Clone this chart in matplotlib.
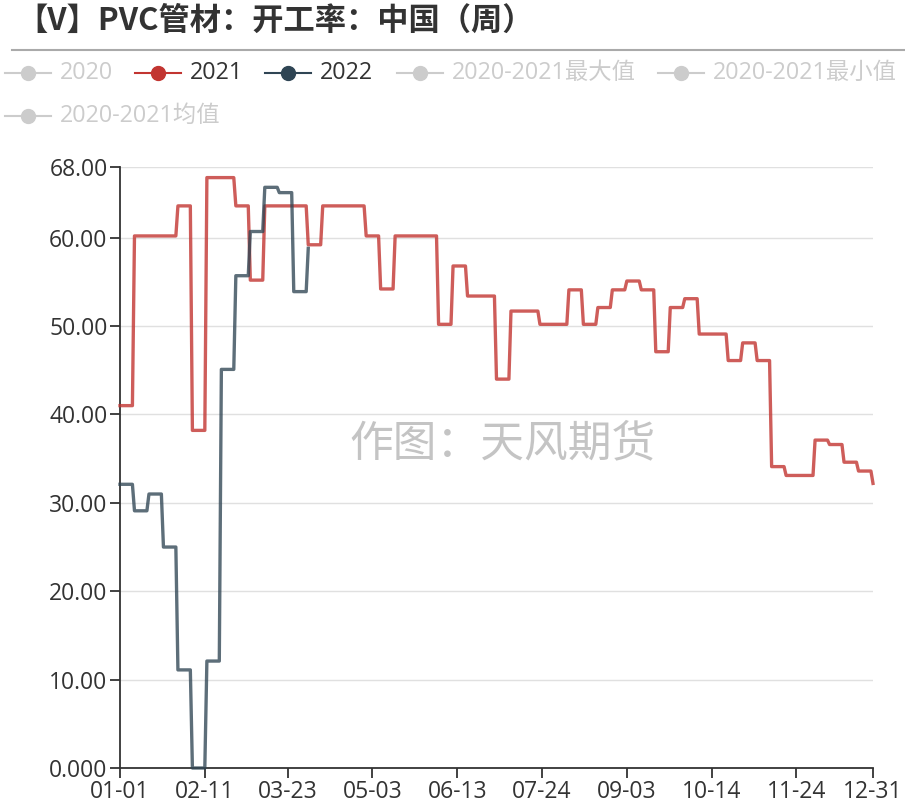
import matplotlib.pyplot as plt
from matplotlib.lines import Line2D
from datetime import datetime
import numpy as np

plt.rcParams['font.family'] = ['Open Sans', 'Noto Sans CJK SC', 'DejaVu Sans']

# 周度开工率（%），每周一个点
v2021 = [41.0, 60.2, 60.2, 60.2, 63.6, 38.2, 66.8, 66.8, 63.6, 55.2,
         63.6, 63.6, 63.6, 59.2, 63.6, 63.6, 63.6, 60.2, 54.2, 60.2,
         60.2, 60.2, 50.2, 56.8, 53.4, 53.4, 44.0, 51.7, 51.7, 50.2,
         50.2, 54.1, 50.2, 52.1, 54.1, 55.1, 54.1, 47.1, 52.1, 53.1,
         49.1, 49.1, 46.1, 48.1, 46.1, 34.1, 33.1, 33.1, 37.1, 36.6,
         34.6, 33.6, 32.2]
v2022 = [32.1, 29.1, 31.0, 25.0, 11.1, 0.0, 12.1, 45.1, 55.7, 60.7,
         65.7, 65.1, 53.9, 58.8]

tick_dates = ["01-01", "02-11", "03-23", "05-03", "06-13", "07-24",
              "09-03", "10-14", "11-24", "12-31"]
y_ticks = [0, 10, 20, 30, 40, 50, 60, 68]
y_labels = ["0.000", "10.00", "20.00", "30.00", "40.00", "50.00", "60.00", "68.00"]

legend_names = ["2020", "2021", "2022", "2020-2021最大值", "2020-2021最小值", "2020-2021均值"]
legend_colors = ["#cccccc", "#c23531", "#2f4554", "#cccccc", "#cccccc", "#cccccc"]


def steps(vals):
    # 每周数值保持到下周前一天
    days = np.arange(len(vals)) * 7
    x = np.column_stack([days, days + 6]).ravel()[:-1]
    y = np.repeat(vals, 2)[:-1]
    return x, y


W, H = 905, 808
fig = plt.figure(figsize=(W / 100, H / 100), dpi=100)
ax = fig.add_axes([120 / W, 40 / H, 753 / W, 601 / H])

x1, y1 = steps(v2021)
x2, y2 = steps(v2022)
ax.plot(x1, y1, color="#c23531", alpha=0.8, lw=2.4, clip_on=False, zorder=3)
ax.plot(x2, y2, color="#2f4554", alpha=0.78, lw=2.4, clip_on=False, zorder=3)

base = datetime(2021, 1, 1)
tick_pos = [(datetime.strptime("2021-" + d, "%Y-%m-%d") - base).days for d in tick_dates]
ax.set_xlim(0, 364)
ax.set_ylim(0, 68)
ax.set_xticks(tick_pos)
ax.set_xticklabels(tick_dates)
ax.set_yticks(y_ticks)
ax.set_yticklabels(y_labels)
ax.tick_params(axis='both', labelsize=16.5, colors="#333333", length=7, width=1.3, pad=2)
ax.grid(axis='y', color="#e0e0e0", lw=1)
ax.set_axisbelow(True)
for s in ["top", "right"]:
    ax.spines[s].set_visible(False)
for s in ["left", "bottom"]:
    ax.spines[s].set_color("#333333")
    ax.spines[s].set_linewidth(1.3)

# 水印
ax.text(0.508, 0.54, "作图：天风期货", transform=ax.transAxes, fontsize=31.5,
        color="#c4c4c4", ha="center", va="center", family=['Noto Sans CJK SC'])

# 标题与分隔线
fig.text(16 / W, 1 - 21 / H, "【V】PVC管材：开工率：中国（周）", fontsize=22.5,
         fontweight="bold", color="#333333", va="center",
         family=['Noto Sans CJK SC', 'DejaVu Sans'])
fig.add_artist(Line2D([12 / W, 1], [1 - 50 / H, 1 - 50 / H], color="#aaaaaa", lw=1.5))

# 图例
leg_pos = [(5, 73), (135, 73), (265, 73), (397, 73), (658, 73), (5, 116)]
for name, c, (px, py) in zip(legend_names, legend_colors, leg_pos):
    yy = 1 - py / H
    fig.add_artist(Line2D([px / W, (px + 46) / W], [yy, yy], color=c, lw=1.5))
    fig.add_artist(Line2D([(px + 23) / W], [yy], marker="o", markersize=10,
                          color=c, lw=0))
    tc = "#333333" if c != "#cccccc" else "#cccccc"
    fig.text((px + 55) / W, yy, name, fontsize=16.8, color=tc, va="center")

fig.savefig("out.png", dpi=100)
